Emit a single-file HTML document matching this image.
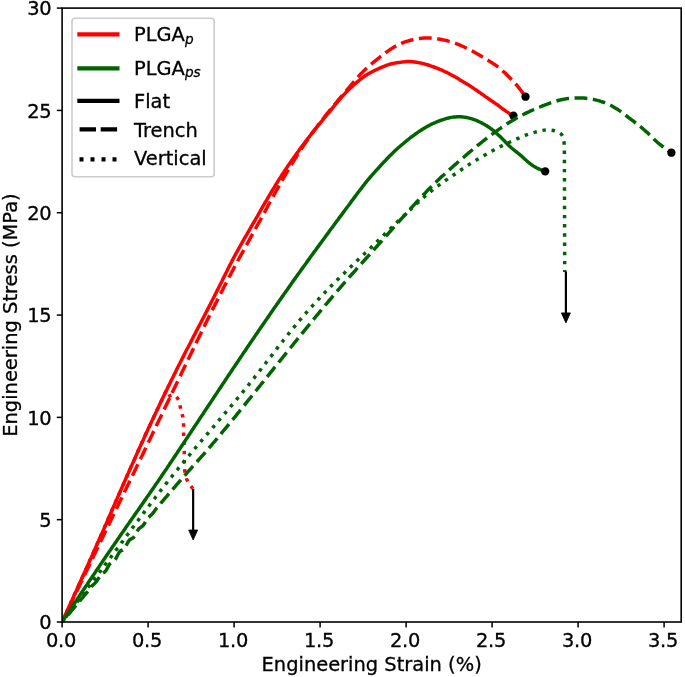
<!DOCTYPE html>
<html lang="en"><head><meta charset="utf-8"><title>Engineering Stress vs Strain</title>
<style>html,body{margin:0;padding:0;background:#fff;}svg{display:block;}svg text{stroke:#000;stroke-width:0.3px;}</style></head>
<body>
<svg width="685" height="677" viewBox="0 0 685 677" font-family="'DejaVu Sans', 'Liberation Sans', sans-serif" font-size="19.44px" fill="#000">
<rect width="685" height="677" fill="#fff"/>
<defs><clipPath id="ax"><rect x="62.1" y="8.1" width="619.1" height="613.9"/></clipPath></defs>
<g clip-path="url(#ax)" fill="none" stroke-linejoin="round">
<path d="M62.1 622.0 L62.9 620.2 L63.7 618.4 L64.6 616.6 L65.4 614.7 L66.2 612.9 L67.0 611.1 L67.9 609.3 L68.7 607.5 L69.5 605.7 L70.3 603.9 L71.1 602.1 L72.0 600.2 L72.8 598.4 L73.6 596.6 L74.4 594.8 L75.2 593.0 L76.1 591.2 L76.9 589.4 L77.7 587.5 L78.5 585.7 L79.3 583.9 L80.2 582.1 L81.0 580.3 L81.8 578.5 L82.6 576.7 L83.4 574.8 L84.2 573.0 L85.1 571.2 L85.9 569.4 L86.7 567.6 L87.5 565.8 L88.3 563.9 L89.1 562.1 L89.9 560.3 L90.8 558.5 L91.6 556.7 L92.4 554.9 L93.2 553.0 L94.0 551.2 L94.8 549.4 L95.6 547.6 L96.4 545.8 L97.2 544.0 L98.0 542.1 L98.8 540.3 L99.6 538.5 L100.4 536.7 L101.2 534.8 L102.1 533.0 L102.9 531.2 L103.7 529.4 L104.5 527.6 L105.3 525.7 L106.1 523.9 L106.9 522.1 L107.7 520.3 L108.4 518.4 L109.2 516.6 L110.0 514.8 L110.8 513.0 L111.6 511.1 L112.4 509.3 L113.2 507.5 L114.0 505.7 L114.8 503.9 L115.6 502.0 L116.4 500.2 L117.2 498.4 L118.0 496.6 L118.8 494.7 L119.6 492.9 L120.4 491.1 L121.2 489.3 L122.0 487.4 L122.8 485.6 L123.6 483.8 L124.4 482.0 L125.2 480.1 L126.0 478.3 L126.8 476.5 L127.6 474.7 L128.4 472.9 L129.2 471.0 L130.0 469.2 L130.8 467.4 L131.6 465.6 L132.4 463.8 L133.3 461.9 L134.1 460.1 L134.9 458.3 L135.7 456.5 L136.5 454.7 L137.3 452.9 L138.1 451.0 L138.9 449.2 L139.8 447.4 L140.6 445.6 L141.4 443.8 L142.2 442.0 L143.1 440.2 L143.9 438.4 L144.7 436.5 L145.5 434.7 L146.4 432.9 L147.2 431.1 L148.0 429.3 L148.9 427.5 L149.7 425.7 L150.5 423.9 L151.4 422.1 L152.2 420.3 L153.1 418.5 L153.9 416.7 L154.8 414.9 L155.6 413.1 L156.5 411.3 L157.3 409.5 L158.2 407.7 L159.0 405.9 L159.9 404.1 L160.7 402.3 L161.6 400.5 L162.4 398.7 L163.3 396.9 L164.2 395.1 L165.0 393.3 L165.9 391.5 L166.8 389.7 L167.6 387.9 L168.5 386.1 L169.4 384.4 L170.3 382.6 L171.1 380.8 L172.0 379.0 L172.9 377.2 L173.8 375.4 L174.7 373.6 L175.6 371.9 L176.4 370.1 L177.3 368.3 L178.2 366.5 L179.1 364.7 L180.0 363.0 L180.9 361.2 L181.8 359.4 L182.7 357.6 L183.6 355.9 L184.5 354.1 L185.4 352.3 L186.3 350.5 L187.2 348.8 L188.2 347.0 L189.1 345.2 L190.0 343.5 L190.9 341.7 L191.8 339.9 L192.7 338.2 L193.6 336.4 L194.6 334.6 L195.5 332.9 L196.4 331.1 L197.3 329.3 L198.2 327.6 L199.1 325.8 L200.1 324.0 L201.0 322.3 L201.9 320.5 L202.8 318.7 L203.7 317.0 L204.6 315.2 L205.5 313.4 L206.5 311.7 L207.4 309.9 L208.3 308.1 L209.2 306.3 L210.1 304.6 L211.0 302.8 L211.9 301.0 L212.8 299.3 L213.7 297.5 L214.6 295.7 L215.5 293.9 L216.4 292.2 L217.3 290.4 L218.2 288.6 L219.1 286.8 L220.0 285.0 L220.9 283.3 L221.8 281.5 L222.6 279.7 L223.5 277.9 L224.4 276.1 L225.3 274.3 L226.2 272.5 L227.1 270.8 L227.9 269.0 L228.8 267.2 L229.7 265.4 L230.6 263.7 L231.6 261.9 L232.5 260.1 L233.4 258.4 L234.3 256.6 L235.3 254.9 L236.2 253.1 L237.2 251.4 L238.2 249.6 L239.1 247.9 L240.1 246.2 L241.1 244.4 L242.1 242.7 L243.1 241.0 L244.0 239.2 L245.0 237.5 L246.0 235.8 L247.0 234.1 L248.0 232.3 L249.0 230.6 L250.0 228.9 L251.0 227.2 L252.0 225.4 L253.0 223.7 L254.0 222.0 L255.0 220.3 L256.0 218.5 L257.0 216.8 L258.0 215.1 L259.0 213.4 L260.0 211.6 L260.9 209.9 L261.9 208.2 L262.9 206.5 L263.9 204.7 L264.9 203.0 L265.9 201.3 L266.9 199.6 L267.9 197.8 L268.9 196.1 L270.0 194.4 L271.0 192.7 L272.0 191.0 L273.0 189.3 L274.1 187.6 L275.1 185.9 L276.1 184.2 L277.2 182.5 L278.2 180.8 L279.3 179.1 L280.4 177.5 L281.4 175.8 L282.5 174.1 L283.6 172.5 L284.7 170.8 L285.8 169.1 L286.9 167.5 L288.0 165.8 L289.2 164.2 L290.3 162.5 L291.4 160.9 L292.6 159.3 L293.7 157.6 L294.9 156.0 L296.0 154.4 L297.2 152.8 L298.4 151.2 L299.5 149.6 L300.7 148.0 L301.9 146.4 L303.1 144.8 L304.3 143.2 L305.5 141.6 L306.7 140.0 L307.9 138.4 L309.2 136.9 L310.4 135.3 L311.6 133.7 L312.8 132.2 L314.1 130.6 L315.3 129.1 L316.6 127.5 L317.8 126.0 L319.1 124.4 L320.3 122.9 L321.6 121.3 L322.8 119.8 L324.1 118.2 L325.4 116.7 L326.6 115.2 L327.9 113.6 L329.2 112.1 L330.4 110.5 L331.7 109.0 L333.0 107.5 L334.2 105.9 L335.5 104.4 L336.8 102.9 L338.0 101.3 L339.3 99.8 L340.6 98.3 L341.9 96.8 L343.2 95.3 L344.6 93.9 L346.0 92.4 L347.4 91.0 L348.8 89.6 L350.2 88.2 L351.7 86.9 L353.1 85.5 L354.6 84.2 L356.1 82.9 L357.6 81.6 L359.2 80.3 L360.7 79.0 L362.3 77.8 L363.9 76.7 L365.6 75.5 L367.2 74.5 L368.9 73.5 L370.7 72.5 L372.4 71.6 L374.2 70.7 L376.0 69.9 L377.9 69.0 L379.7 68.2 L381.5 67.4 L383.4 66.6 L385.2 65.9 L387.1 65.2 L388.9 64.5 L390.8 64.0 L392.8 63.5 L394.7 63.1 L396.7 62.7 L398.6 62.4 L400.6 62.2 L402.6 61.9 L404.6 61.8 L406.6 61.6 L408.6 61.6 L410.6 61.6 L412.6 61.8 L414.5 62.0 L416.5 62.3 L418.5 62.6 L420.4 63.0 L422.4 63.4 L424.3 63.9 L426.2 64.5 L428.1 65.0 L430.0 65.7 L431.9 66.3 L433.8 67.0 L435.6 67.7 L437.5 68.4 L439.3 69.2 L441.2 69.9 L443.0 70.7 L444.8 71.6 L446.6 72.4 L448.4 73.3 L450.1 74.2 L451.9 75.2 L453.6 76.1 L455.4 77.1 L457.1 78.1 L458.8 79.1 L460.5 80.2 L462.2 81.2 L463.9 82.2 L465.6 83.2 L467.3 84.3 L469.0 85.3 L470.7 86.4 L472.4 87.5 L474.0 88.6 L475.7 89.7 L477.3 90.8 L478.9 92.0 L480.6 93.1 L482.2 94.3 L483.8 95.4 L485.4 96.6 L487.1 97.7 L488.7 98.9 L490.3 100.0 L492.0 101.1 L493.6 102.2 L495.2 103.4 L496.9 104.5 L498.5 105.7 L500.1 106.9 L501.7 108.1 L503.3 109.3 L504.9 110.4 L506.6 111.6 L508.2 112.6 L509.9 113.7 L511.7 114.6 L513.4 115.6" stroke="#f00" stroke-width="3.47"/>
<circle cx="513.4" cy="115.6" r="4.17" fill="#000"/>
<path d="M62.1 622.0 L63.0 620.1 L63.9 618.3 L64.8 616.4 L65.7 614.6 L66.5 612.7 L67.4 610.8 L68.3 609.0 L69.2 607.1 L70.1 605.3 L71.0 603.4 L71.9 601.6 L72.8 599.7 L73.6 597.8 L74.5 596.0 L75.4 594.1 L76.3 592.3 L77.2 590.4 L78.1 588.5 L79.0 586.7 L79.9 584.8 L80.7 583.0 L81.6 581.1 L82.5 579.3 L83.4 577.4 L84.3 575.5 L85.2 573.7 L86.1 571.8 L87.0 570.0 L87.9 568.1 L88.8 566.2 L89.6 564.4 L90.5 562.5 L91.4 560.7 L92.3 558.8 L93.2 557.0 L94.1 555.1 L95.0 553.2 L95.9 551.4 L96.8 549.5 L97.7 547.7 L98.6 545.8 L99.4 544.0 L100.3 542.1 L101.2 540.3 L102.1 538.4 L103.0 536.5 L103.9 534.7 L104.8 532.8 L105.7 531.0 L106.6 529.1 L107.5 527.3 L108.4 525.4 L109.3 523.5 L110.2 521.7 L111.1 519.8 L112.0 518.0 L112.9 516.1 L113.8 514.3 L114.7 512.4 L115.6 510.6 L116.4 508.7 L117.3 506.9 L118.2 505.0 L119.1 503.1 L120.0 501.3 L120.9 499.4 L121.8 497.6 L122.7 495.7 L123.6 493.9 L124.5 492.0 L125.4 490.2 L126.3 488.3 L127.2 486.5 L128.1 484.6 L129.0 482.7 L129.9 480.9 L130.8 479.0 L131.7 477.2 L132.6 475.3 L133.5 473.5 L134.4 471.6 L135.3 469.8 L136.1 467.9 L137.0 466.0 L137.9 464.2 L138.8 462.3 L139.7 460.5 L140.6 458.6 L141.5 456.8 L142.4 454.9 L143.3 453.1 L144.2 451.2 L145.1 449.3 L146.0 447.5 L146.9 445.6 L147.8 443.8 L148.6 441.9 L149.5 440.1 L150.4 438.2 L151.3 436.3 L152.2 434.5 L153.1 432.6 L154.0 430.8 L154.9 428.9 L155.8 427.0 L156.6 425.2 L157.5 423.3 L158.4 421.5 L159.3 419.6 L160.2 417.8 L161.1 415.9 L162.0 414.0 L162.9 412.2 L163.8 410.3 L164.6 408.5 L165.5 406.6 L166.4 404.7 L167.3 402.9 L168.2 401.0 L169.1 399.2 L170.0 397.3 L170.9 395.5 L171.8 393.6 L172.6 391.7 L173.5 389.9 L174.4 388.0 L175.3 386.2 L176.2 384.3 L177.1 382.4 L178.0 380.6 L178.9 378.7 L179.8 376.9 L180.7 375.0 L181.5 373.2 L182.4 371.3 L183.3 369.4 L184.2 367.6 L185.1 365.7 L186.0 363.9 L186.9 362.0 L187.8 360.2 L188.7 358.3 L189.6 356.5 L190.5 354.6 L191.4 352.7 L192.3 350.9 L193.2 349.0 L194.1 347.2 L195.0 345.3 L195.9 343.5 L196.8 341.6 L197.7 339.8 L198.6 337.9 L199.5 336.1 L200.4 334.2 L201.3 332.4 L202.2 330.5 L203.1 328.7 L204.0 326.8 L204.9 325.0 L205.8 323.1 L206.7 321.3 L207.6 319.4 L208.5 317.6 L209.5 315.7 L210.4 313.9 L211.3 312.0 L212.2 310.2 L213.1 308.4 L214.1 306.5 L215.0 304.7 L215.9 302.8 L216.9 301.0 L217.8 299.2 L218.7 297.3 L219.7 295.5 L220.6 293.7 L221.5 291.8 L222.5 290.0 L223.4 288.2 L224.4 286.3 L225.3 284.5 L226.3 282.7 L227.2 280.8 L228.2 279.0 L229.1 277.2 L230.1 275.4 L231.0 273.5 L232.0 271.7 L233.0 269.9 L233.9 268.1 L234.9 266.3 L235.9 264.5 L236.9 262.6 L237.8 260.8 L238.8 259.0 L239.8 257.2 L240.8 255.4 L241.8 253.6 L242.8 251.8 L243.8 250.0 L244.8 248.2 L245.7 246.4 L246.7 244.6 L247.7 242.8 L248.7 241.0 L249.7 239.2 L250.7 237.4 L251.7 235.6 L252.7 233.8 L253.7 232.0 L254.7 230.2 L255.7 228.3 L256.7 226.5 L257.7 224.7 L258.7 222.9 L259.7 221.1 L260.7 219.3 L261.6 217.5 L262.6 215.7 L263.6 213.9 L264.6 212.1 L265.6 210.3 L266.6 208.5 L267.5 206.7 L268.5 204.8 L269.5 203.0 L270.5 201.2 L271.5 199.4 L272.5 197.6 L273.5 195.8 L274.5 194.0 L275.5 192.2 L276.5 190.4 L277.5 188.6 L278.5 186.8 L279.5 185.0 L280.5 183.2 L281.5 181.4 L282.6 179.6 L283.6 177.9 L284.6 176.1 L285.7 174.3 L286.7 172.5 L287.8 170.7 L288.8 169.0 L289.9 167.2 L291.0 165.4 L292.0 163.7 L293.1 161.9 L294.2 160.2 L295.3 158.4 L296.4 156.7 L297.5 154.9 L298.6 153.2 L299.7 151.5 L300.9 149.7 L302.0 148.0 L303.1 146.3 L304.3 144.6 L305.4 142.9 L306.6 141.2 L307.8 139.5 L308.9 137.8 L310.1 136.1 L311.3 134.4 L312.5 132.8 L313.7 131.1 L314.9 129.4 L316.2 127.8 L317.4 126.1 L318.6 124.5 L319.9 122.8 L321.1 121.2 L322.4 119.6 L323.7 118.0 L325.0 116.3 L326.2 114.7 L327.5 113.1 L328.8 111.5 L330.1 109.9 L331.4 108.3 L332.7 106.7 L334.1 105.1 L335.4 103.6 L336.7 102.0 L338.0 100.4 L339.3 98.8 L340.7 97.2 L342.0 95.7 L343.3 94.1 L344.7 92.5 L346.0 91.0 L347.3 89.4 L348.7 87.9 L350.0 86.3 L351.4 84.7 L352.7 83.2 L354.0 81.6 L355.4 80.0 L356.7 78.4 L358.1 76.9 L359.4 75.4 L360.8 73.8 L362.3 72.4 L363.7 70.9 L365.2 69.5 L366.7 68.1 L368.2 66.7 L369.8 65.4 L371.4 64.0 L373.0 62.7 L374.6 61.4 L376.2 60.1 L377.8 58.8 L379.4 57.5 L381.0 56.2 L382.6 55.0 L384.3 53.7 L385.9 52.5 L387.6 51.3 L389.3 50.1 L391.0 49.0 L392.7 47.9 L394.5 46.8 L396.3 45.8 L398.2 44.9 L400.0 44.0 L401.9 43.2 L403.8 42.4 L405.8 41.7 L407.7 41.1 L409.7 40.5 L411.7 40.0 L413.7 39.5 L415.7 39.1 L417.8 38.7 L419.8 38.4 L421.9 38.2 L423.9 38.1 L426.0 38.0 L428.0 38.0 L430.1 38.1 L432.2 38.3 L434.2 38.5 L436.3 38.7 L438.3 39.0 L440.3 39.3 L442.4 39.7 L444.4 40.1 L446.4 40.5 L448.4 41.1 L450.4 41.6 L452.3 42.2 L454.3 42.9 L456.2 43.6 L458.1 44.4 L460.0 45.2 L461.9 46.0 L463.8 46.8 L465.7 47.7 L467.6 48.6 L469.4 49.5 L471.2 50.4 L473.1 51.4 L474.9 52.4 L476.6 53.4 L478.4 54.5 L480.2 55.5 L481.9 56.6 L483.7 57.7 L485.4 58.8 L487.2 59.9 L489.0 60.9 L490.7 62.0 L492.5 63.1 L494.2 64.3 L495.9 65.4 L497.5 66.6 L499.2 67.9 L500.8 69.2 L502.3 70.5 L503.8 71.9 L505.4 73.3 L506.8 74.8 L508.3 76.2 L509.8 77.7 L511.2 79.2 L512.6 80.6 L514.0 82.1 L515.4 83.7 L516.8 85.2 L518.1 86.8 L519.4 88.4 L520.6 90.0 L521.9 91.7 L523.1 93.4 L524.3 95.0 L525.5 96.7" stroke="#f00" stroke-width="3.47" stroke-dasharray="12.84 5.55" stroke-dashoffset="3.32"/>
<circle cx="525.5" cy="96.7" r="4.17" fill="#000"/>
<path d="M62.1 622.0 L62.9 620.2 L63.7 618.4 L64.6 616.6 L65.4 614.7 L66.2 612.9 L67.0 611.1 L67.9 609.3 L68.7 607.5 L69.5 605.7 L70.3 603.9 L71.1 602.1 L72.0 600.2 L72.8 598.4 L73.6 596.6 L74.4 594.8 L75.2 593.0 L76.1 591.2 L76.9 589.4 L77.7 587.5 L78.5 585.7 L79.3 583.9 L80.2 582.1 L81.0 580.3 L81.8 578.5 L82.6 576.7 L83.4 574.8 L84.2 573.0 L85.1 571.2 L85.9 569.4 L86.7 567.6 L87.5 565.8 L88.3 563.9 L89.1 562.1 L89.9 560.3 L90.8 558.5 L91.6 556.7 L92.4 554.9 L93.2 553.0 L94.0 551.2 L94.8 549.4 L95.6 547.6 L96.4 545.8 L97.2 544.0 L98.0 542.1 L98.8 540.3 L99.6 538.5 L100.4 536.7 L101.2 534.8 L102.1 533.0 L102.9 531.2 L103.7 529.4 L104.5 527.6 L105.3 525.7 L106.1 523.9 L106.9 522.1 L107.7 520.3 L108.4 518.4 L109.2 516.6 L110.0 514.8 L110.8 513.0 L111.6 511.1 L112.4 509.3 L113.2 507.5 L114.0 505.7 L114.8 503.9 L115.6 502.0 L116.4 500.2 L117.2 498.4 L118.0 496.6 L118.8 494.7 L119.6 492.9 L120.4 491.1 L121.2 489.3 L122.0 487.4 L122.8 485.6 L123.6 483.8 L124.4 482.0 L125.2 480.1 L126.0 478.3 L126.8 476.5 L127.6 474.7 L128.4 472.9 L129.2 471.0 L130.0 469.2 L130.8 467.4 L131.6 465.6 L132.4 463.8 L133.3 461.9 L134.1 460.1 L134.9 458.3 L135.7 456.5 L136.5 454.7 L137.3 452.9 L138.1 451.0 L138.9 449.2 L139.8 447.4 L140.6 445.6 L141.4 443.8 L142.2 442.0 L143.1 440.2 L143.9 438.4 L144.7 436.5 L145.5 434.7 L146.4 432.9 L147.2 431.1 L148.0 429.3 L148.9 427.5 L149.7 425.7 L150.5 423.9 L151.4 422.1 L152.2 420.3 L153.1 418.5 L153.9 416.7 L154.8 414.9 L155.6 413.1 L156.5 411.3 L157.3 409.5 L158.2 407.7 L159.0 405.9 L159.9 404.1 L160.7 402.3 L161.6 400.5 L162.4 398.7 L163.3 396.9 L164.2 395.1 L165.0 393.3 L165.9 391.5 L168.0 397.0 L169.2 396.2 L170.4 395.5 L171.6 395.0 L172.8 394.8 L174.0 395.0 L175.1 395.7 L176.2 396.6 L177.1 397.7 L177.9 398.9 L178.6 400.1 L179.1 401.4 L179.4 402.7 L179.7 404.0 L180.0 405.2 L180.2 406.5 L180.5 407.8 L180.7 409.1 L181.1 410.4 L181.4 411.6 L181.8 412.9 L182.1 414.2 L182.5 415.5 L182.8 416.8 L183.0 418.0 L183.2 419.3 L183.4 420.7 L183.5 422.0 L183.5 423.3 L183.6 424.6 L183.6 425.9 L183.6 427.3 L183.6 428.6 L183.6 429.9 L183.6 431.2 L183.6 432.6 L183.7 433.9 L183.7 435.2 L183.8 436.5 L183.8 437.8 L183.9 439.2 L183.9 440.5 L184.0 441.8 L184.0 443.1 L184.1 444.4 L184.1 445.8 L184.2 447.1 L184.2 448.4 L184.2 449.7 L184.3 451.0 L184.3 452.4 L184.3 453.7 L184.3 455.0 L184.3 456.3 L184.3 457.6 L184.4 459.0 L184.4 460.3 L184.4 461.6 L184.4 462.9 L184.4 464.2 L184.5 465.6 L184.5 466.9 L184.6 468.2 L184.7 469.5 L184.8 470.8 L184.9 472.1 L185.2 473.5 L185.4 474.8 L185.7 476.1 L186.1 477.3 L186.5 478.6 L187.0 479.8 L187.5 481.0 L188.1 482.2 L188.8 483.3 L189.5 484.4 L190.3 485.5 L191.1 486.5 L192.0 487.6 L192.8 488.6" stroke="#f00" stroke-width="3.47" stroke-dasharray="3.47 5.73" stroke-dashoffset="7.58"/>
<path d="M62.1 622.0 L63.1 620.4 L64.2 618.8 L65.2 617.3 L66.3 615.7 L67.3 614.1 L68.4 612.5 L69.4 611.0 L70.5 609.4 L71.5 607.8 L72.6 606.2 L73.6 604.7 L74.7 603.1 L75.7 601.5 L76.8 599.9 L77.8 598.3 L78.9 596.8 L79.9 595.2 L81.0 593.6 L82.0 592.0 L83.1 590.5 L84.1 588.9 L85.2 587.3 L86.2 585.7 L87.3 584.2 L88.3 582.6 L89.4 581.0 L90.4 579.5 L91.5 577.9 L92.6 576.3 L93.6 574.7 L94.7 573.2 L95.7 571.6 L96.8 570.0 L97.8 568.5 L98.9 566.9 L100.0 565.3 L101.0 563.8 L102.1 562.2 L103.1 560.6 L104.2 559.0 L105.3 557.5 L106.3 555.9 L107.4 554.4 L108.5 552.8 L109.5 551.2 L110.6 549.7 L111.7 548.1 L112.7 546.5 L113.8 545.0 L114.9 543.4 L116.0 541.9 L117.0 540.3 L118.1 538.7 L119.2 537.2 L120.3 535.6 L121.3 534.1 L122.4 532.5 L123.5 531.0 L124.6 529.4 L125.7 527.8 L126.7 526.3 L127.8 524.7 L128.9 523.2 L130.0 521.6 L131.1 520.1 L132.1 518.5 L133.2 517.0 L134.3 515.4 L135.4 513.9 L136.5 512.3 L137.6 510.8 L138.7 509.2 L139.7 507.7 L140.8 506.1 L141.9 504.6 L143.0 503.0 L144.1 501.4 L145.2 499.9 L146.2 498.3 L147.3 496.8 L148.4 495.2 L149.5 493.7 L150.5 492.1 L151.6 490.6 L152.7 489.0 L153.8 487.4 L154.8 485.9 L155.9 484.3 L157.0 482.8 L158.1 481.2 L159.1 479.6 L160.2 478.1 L161.3 476.5 L162.3 474.9 L163.4 473.4 L164.4 471.8 L165.5 470.2 L166.6 468.7 L167.6 467.1 L168.7 465.5 L169.7 463.9 L170.8 462.4 L171.8 460.8 L172.9 459.2 L173.9 457.6 L175.0 456.1 L176.0 454.5 L177.1 452.9 L178.1 451.3 L179.2 449.8 L180.2 448.2 L181.3 446.6 L182.3 445.0 L183.4 443.5 L184.4 441.9 L185.5 440.3 L186.5 438.7 L187.6 437.2 L188.6 435.6 L189.7 434.0 L190.7 432.4 L191.8 430.8 L192.8 429.3 L193.8 427.7 L194.9 426.1 L195.9 424.5 L197.0 423.0 L198.0 421.4 L199.1 419.8 L200.1 418.2 L201.2 416.6 L202.2 415.1 L203.3 413.5 L204.3 411.9 L205.3 410.3 L206.4 408.7 L207.4 407.2 L208.5 405.6 L209.5 404.0 L210.6 402.4 L211.6 400.9 L212.7 399.3 L213.7 397.7 L214.8 396.1 L215.8 394.5 L216.9 393.0 L217.9 391.4 L218.9 389.8 L220.0 388.2 L221.0 386.7 L222.1 385.1 L223.1 383.5 L224.2 381.9 L225.2 380.3 L226.3 378.8 L227.3 377.2 L228.4 375.6 L229.4 374.0 L230.5 372.5 L231.5 370.9 L232.6 369.3 L233.6 367.7 L234.7 366.2 L235.8 364.6 L236.8 363.0 L237.9 361.5 L238.9 359.9 L240.0 358.3 L241.0 356.7 L242.1 355.2 L243.1 353.6 L244.2 352.0 L245.3 350.5 L246.3 348.9 L247.4 347.3 L248.4 345.8 L249.5 344.2 L250.6 342.6 L251.6 341.1 L252.7 339.5 L253.8 337.9 L254.8 336.4 L255.9 334.8 L257.0 333.2 L258.0 331.7 L259.1 330.1 L260.2 328.5 L261.2 327.0 L262.3 325.4 L263.4 323.9 L264.5 322.3 L265.5 320.7 L266.6 319.2 L267.7 317.6 L268.8 316.1 L269.8 314.5 L270.9 312.9 L272.0 311.4 L273.1 309.8 L274.1 308.3 L275.2 306.7 L276.3 305.2 L277.4 303.6 L278.5 302.1 L279.6 300.5 L280.6 299.0 L281.7 297.4 L282.8 295.9 L283.9 294.3 L285.0 292.8 L286.1 291.2 L287.2 289.7 L288.3 288.1 L289.4 286.6 L290.5 285.0 L291.5 283.5 L292.6 281.9 L293.7 280.4 L294.8 278.9 L295.9 277.3 L297.0 275.8 L298.1 274.2 L299.2 272.7 L300.3 271.2 L301.4 269.6 L302.5 268.1 L303.7 266.5 L304.8 265.0 L305.9 263.5 L307.0 261.9 L308.1 260.4 L309.2 258.9 L310.3 257.3 L311.4 255.8 L312.5 254.3 L313.6 252.7 L314.8 251.2 L315.9 249.7 L317.0 248.1 L318.1 246.6 L319.2 245.1 L320.3 243.6 L321.5 242.0 L322.6 240.5 L323.7 239.0 L324.8 237.5 L325.9 235.9 L327.1 234.4 L328.2 232.9 L329.3 231.3 L330.4 229.8 L331.5 228.3 L332.7 226.8 L333.8 225.3 L334.9 223.7 L336.0 222.2 L337.2 220.7 L338.3 219.2 L339.4 217.6 L340.5 216.1 L341.7 214.6 L342.8 213.1 L343.9 211.6 L345.1 210.0 L346.2 208.5 L347.3 207.0 L348.5 205.5 L349.6 204.0 L350.7 202.4 L351.8 200.9 L353.0 199.4 L354.1 197.9 L355.2 196.4 L356.4 194.8 L357.5 193.3 L358.6 191.8 L359.8 190.3 L360.9 188.8 L362.1 187.3 L363.2 185.8 L364.4 184.3 L365.5 182.8 L366.7 181.3 L367.9 179.9 L369.2 178.4 L370.4 177.0 L371.6 175.6 L372.9 174.1 L374.2 172.7 L375.4 171.3 L376.7 169.9 L378.0 168.5 L379.2 167.1 L380.5 165.7 L381.8 164.3 L383.1 162.9 L384.4 161.5 L385.7 160.2 L387.0 158.8 L388.3 157.4 L389.6 156.1 L391.0 154.7 L392.3 153.4 L393.7 152.1 L395.0 150.8 L396.4 149.5 L397.8 148.2 L399.3 147.0 L400.7 145.7 L402.1 144.5 L403.6 143.3 L405.0 142.1 L406.5 140.9 L408.0 139.7 L409.4 138.5 L410.9 137.3 L412.5 136.2 L414.0 135.1 L415.5 134.0 L417.1 132.9 L418.6 131.8 L420.2 130.8 L421.8 129.7 L423.4 128.7 L425.0 127.7 L426.7 126.8 L428.3 125.9 L430.0 125.0 L431.7 124.1 L433.4 123.3 L435.1 122.6 L436.9 121.8 L438.6 121.1 L440.4 120.5 L442.2 119.9 L444.0 119.3 L445.9 118.7 L447.7 118.2 L449.5 117.8 L451.4 117.4 L453.3 117.1 L455.2 116.9 L457.1 116.7 L458.9 116.7 L460.8 116.8 L462.7 116.9 L464.6 117.2 L466.5 117.5 L468.3 117.9 L470.2 118.4 L472.0 118.9 L473.8 119.5 L475.6 120.2 L477.4 120.9 L479.1 121.7 L480.8 122.5 L482.5 123.4 L484.1 124.3 L485.8 125.2 L487.4 126.3 L488.9 127.3 L490.5 128.4 L492.0 129.5 L493.5 130.7 L495.0 131.9 L496.4 133.2 L497.8 134.4 L499.2 135.7 L500.6 137.1 L501.9 138.4 L503.2 139.8 L504.6 141.1 L505.9 142.5 L507.2 143.8 L508.5 145.2 L509.9 146.5 L511.3 147.8 L512.7 149.0 L514.2 150.2 L515.7 151.4 L517.2 152.5 L518.6 153.7 L520.1 154.9 L521.6 156.1 L523.0 157.4 L524.4 158.7 L525.8 160.0 L527.2 161.2 L528.6 162.5 L530.1 163.7 L531.6 164.8 L533.2 165.9 L534.8 166.9 L536.5 167.8 L538.2 168.6 L539.9 169.4 L541.6 170.1 L543.4 170.8 L545.2 171.4" stroke="#006400" stroke-width="3.47"/>
<circle cx="545.2" cy="171.4" r="4.17" fill="#000"/>
<path d="M62.1 622.0 L63.5 620.4 L64.9 618.7 L66.2 617.1 L67.6 615.4 L69.0 613.8 L70.4 612.1 L71.7 610.5 L73.1 608.8 L74.5 607.2 L75.9 605.5 L77.3 603.9 L78.6 602.2 L80.0 600.6 L81.4 598.9 L82.8 597.3 L84.1 595.7 L85.5 594.1 L86.9 592.5 L88.3 590.8 L89.6 588.9 L91.0 587.0 L92.4 585.5 L93.8 584.2 L95.2 583.0 L96.5 581.4 L97.9 579.3 L99.3 577.0 L100.7 575.0 L102.0 573.7 L103.4 572.8 L104.8 571.8 L106.2 570.2 L107.5 567.8 L108.9 565.2 L110.3 563.2 L111.6 562.0 L113.0 561.4 L114.4 560.5 L115.8 558.8 L117.1 556.2 L118.5 553.5 L119.9 551.5 L121.2 550.5 L122.6 550.0 L124.0 549.0 L125.3 547.2 L126.7 544.5 L128.1 541.9 L129.5 540.0 L130.8 539.0 L132.2 538.4 L133.6 537.3 L134.9 535.4 L136.3 532.9 L137.7 530.4 L139.0 528.6 L140.4 527.5 L141.7 526.7 L143.1 525.4 L144.5 523.5 L145.8 521.2 L147.2 519.1 L148.6 517.4 L150.0 516.1 L151.3 514.9 L152.7 513.4 L154.1 511.6 L155.4 509.7 L156.8 507.9 L158.2 506.3 L159.6 504.8 L160.9 503.1 L162.3 501.5 L163.7 499.8 L165.1 498.2 L166.5 496.6 L167.9 494.9 L169.3 493.3 L170.7 491.7 L172.1 490.0 L173.5 488.4 L174.9 486.8 L176.3 485.2 L177.7 483.5 L179.1 481.9 L180.5 480.3 L181.9 478.7 L183.3 477.1 L184.7 475.5 L186.2 473.9 L187.6 472.2 L189.0 470.6 L190.5 469.0 L191.9 467.4 L193.3 465.8 L194.7 464.2 L196.2 462.6 L197.6 461.0 L199.0 459.4 L200.4 457.8 L201.8 456.2 L203.3 454.6 L204.7 453.0 L206.1 451.3 L207.5 449.7 L208.9 448.1 L210.3 446.5 L211.7 444.8 L213.1 443.2 L214.5 441.6 L215.9 439.9 L217.2 438.3 L218.6 436.6 L220.0 435.0 L221.4 433.3 L222.7 431.7 L224.1 430.0 L225.5 428.4 L226.9 426.7 L228.2 425.1 L229.6 423.4 L230.9 421.7 L232.3 420.1 L233.7 418.4 L235.0 416.8 L236.4 415.1 L237.7 413.4 L239.1 411.8 L240.4 410.1 L241.8 408.4 L243.1 406.7 L244.5 405.1 L245.8 403.4 L247.2 401.7 L248.5 400.0 L249.9 398.4 L251.2 396.7 L252.5 395.0 L253.9 393.3 L255.2 391.7 L256.6 390.0 L257.9 388.3 L259.3 386.6 L260.6 385.0 L261.9 383.3 L263.3 381.6 L264.6 379.9 L266.0 378.3 L267.3 376.6 L268.7 374.9 L270.0 373.2 L271.3 371.6 L272.7 369.9 L274.0 368.2 L275.4 366.5 L276.7 364.9 L278.1 363.2 L279.4 361.5 L280.8 359.9 L282.1 358.2 L283.4 356.5 L284.8 354.8 L286.1 353.2 L287.5 351.5 L288.8 349.8 L290.2 348.1 L291.5 346.5 L292.9 344.8 L294.2 343.1 L295.6 341.5 L296.9 339.8 L298.3 338.1 L299.6 336.5 L301.0 334.8 L302.3 333.1 L303.7 331.5 L305.0 329.8 L306.4 328.1 L307.8 326.5 L309.1 324.8 L310.5 323.1 L311.8 321.5 L313.2 319.8 L314.6 318.2 L315.9 316.5 L317.3 314.8 L318.7 313.2 L320.0 311.5 L321.4 309.9 L322.8 308.2 L324.1 306.6 L325.5 304.9 L326.9 303.3 L328.3 301.6 L329.7 300.0 L331.1 298.4 L332.4 296.7 L333.8 295.1 L335.2 293.4 L336.6 291.8 L338.0 290.2 L339.4 288.6 L340.8 286.9 L342.2 285.3 L343.6 283.7 L345.0 282.1 L346.5 280.5 L347.9 278.8 L349.3 277.2 L350.7 275.6 L352.1 274.0 L353.6 272.4 L355.0 270.8 L356.4 269.2 L357.8 267.6 L359.3 266.0 L360.7 264.4 L362.1 262.8 L363.6 261.2 L365.0 259.6 L366.4 258.0 L367.9 256.4 L369.3 254.8 L370.7 253.2 L372.2 251.6 L373.6 250.0 L375.0 248.4 L376.5 246.8 L377.9 245.2 L379.3 243.6 L380.8 242.0 L382.2 240.4 L383.6 238.8 L385.0 237.2 L386.5 235.6 L387.9 234.0 L389.3 232.4 L390.7 230.8 L392.2 229.2 L393.6 227.6 L395.0 226.0 L396.5 224.4 L397.9 222.8 L399.3 221.1 L400.7 219.5 L402.2 217.9 L403.6 216.4 L405.1 214.8 L406.5 213.2 L407.9 211.6 L409.4 210.0 L410.8 208.4 L412.3 206.8 L413.7 205.2 L415.2 203.6 L416.6 202.0 L418.1 200.5 L419.5 198.9 L421.0 197.3 L422.5 195.8 L424.0 194.2 L425.5 192.7 L426.9 191.1 L428.4 189.6 L430.0 188.1 L431.5 186.5 L433.0 185.0 L434.5 183.5 L436.1 182.0 L437.6 180.5 L439.2 179.1 L440.7 177.6 L442.3 176.1 L443.9 174.7 L445.5 173.2 L447.1 171.8 L448.7 170.3 L450.3 168.9 L451.9 167.5 L453.5 166.0 L455.1 164.6 L456.7 163.2 L458.3 161.8 L459.9 160.4 L461.5 159.0 L463.2 157.6 L464.8 156.2 L466.4 154.8 L468.1 153.4 L469.7 152.0 L471.4 150.6 L473.0 149.3 L474.7 147.9 L476.3 146.6 L478.0 145.2 L479.7 143.9 L481.4 142.5 L483.0 141.2 L484.7 139.9 L486.4 138.5 L488.1 137.2 L489.8 135.9 L491.6 134.6 L493.3 133.4 L495.0 132.1 L496.8 130.8 L498.5 129.6 L500.3 128.4 L502.0 127.2 L503.8 126.0 L505.6 124.8 L507.4 123.6 L509.2 122.5 L511.1 121.3 L512.9 120.2 L514.8 119.2 L516.6 118.1 L518.5 117.0 L520.4 116.0 L522.3 115.0 L524.2 114.0 L526.1 113.1 L528.1 112.2 L530.0 111.2 L532.0 110.3 L533.9 109.5 L535.9 108.6 L537.9 107.8 L539.9 107.0 L541.9 106.2 L543.9 105.4 L545.9 104.6 L547.9 103.9 L549.9 103.1 L551.9 102.4 L554.0 101.7 L556.0 101.1 L558.1 100.5 L560.2 100.0 L562.3 99.5 L564.4 99.1 L566.5 98.7 L568.6 98.4 L570.8 98.2 L572.9 98.0 L575.1 97.9 L577.2 97.9 L579.4 97.9 L581.5 98.0 L583.7 98.1 L585.8 98.3 L588.0 98.5 L590.1 98.8 L592.2 99.2 L594.3 99.6 L596.4 100.1 L598.5 100.6 L600.6 101.3 L602.6 102.0 L604.6 102.7 L606.6 103.5 L608.6 104.4 L610.5 105.3 L612.4 106.3 L614.3 107.4 L616.1 108.5 L618.0 109.6 L619.7 110.8 L621.5 112.1 L623.2 113.4 L624.9 114.6 L626.6 116.0 L628.3 117.3 L630.0 118.6 L631.7 119.9 L633.4 121.2 L635.1 122.5 L636.8 123.8 L638.5 125.2 L640.2 126.5 L641.9 127.9 L643.5 129.3 L645.1 130.7 L646.7 132.1 L648.3 133.6 L649.8 135.1 L651.4 136.6 L652.9 138.1 L654.4 139.6 L656.0 141.0 L657.6 142.5 L659.2 143.9 L660.9 145.2 L662.6 146.5 L664.3 147.8 L666.1 149.0 L667.8 150.3 L669.6 151.5 L671.4 152.7" stroke="#006400" stroke-width="3.47" stroke-dasharray="12.84 5.55" stroke-dashoffset="9.56"/>
<circle cx="671.4" cy="152.7" r="4.17" fill="#000"/>
<path d="M62.1 622.0 L63.2 620.5 L64.3 619.1 L65.4 617.6 L66.5 616.1 L67.6 614.6 L68.7 613.2 L69.9 611.7 L71.0 610.2 L72.1 608.8 L73.2 607.3 L74.3 605.8 L75.4 604.3 L76.5 602.9 L77.6 601.4 L78.7 599.9 L79.8 598.5 L80.9 597.0 L82.0 595.5 L83.1 594.0 L84.2 592.6 L85.4 591.1 L86.5 589.6 L87.6 588.2 L88.7 586.7 L89.8 585.2 L90.9 583.7 L92.0 582.3 L93.1 580.8 L94.2 579.3 L95.3 577.8 L96.4 576.4 L97.5 574.9 L98.6 573.4 L99.7 572.0 L100.8 570.5 L101.9 569.0 L103.0 567.5 L104.1 566.1 L105.2 564.6 L106.3 563.1 L107.4 561.6 L108.5 560.2 L109.7 558.7 L110.8 557.2 L111.9 555.7 L113.0 554.3 L114.1 552.8 L115.2 551.3 L116.3 549.8 L117.4 548.3 L118.5 546.9 L119.6 545.4 L120.7 543.9 L121.8 542.4 L122.9 541.0 L124.0 539.5 L125.1 538.0 L126.2 536.5 L127.2 535.0 L128.3 533.6 L129.4 532.1 L130.5 530.6 L131.6 529.1 L132.7 527.6 L133.8 526.2 L134.9 524.7 L136.0 523.2 L137.1 521.7 L138.2 520.3 L139.3 518.8 L140.4 517.3 L141.5 515.8 L142.6 514.3 L143.7 512.9 L144.8 511.4 L145.9 509.9 L147.0 508.5 L148.2 507.0 L149.3 505.5 L150.4 504.0 L151.5 502.6 L152.6 501.1 L153.7 499.6 L154.8 498.2 L155.9 496.7 L157.1 495.3 L158.2 493.8 L159.3 492.3 L160.4 490.9 L161.6 489.4 L162.7 488.0 L163.8 486.5 L165.0 485.1 L166.1 483.6 L167.3 482.2 L168.4 480.7 L169.5 479.3 L170.7 477.9 L171.9 476.4 L173.0 475.0 L174.2 473.6 L175.3 472.1 L176.5 470.7 L177.7 469.3 L178.8 467.8 L180.0 466.4 L181.2 465.0 L182.3 463.6 L183.5 462.2 L184.7 460.7 L185.9 459.3 L187.0 457.9 L188.2 456.5 L189.4 455.1 L190.6 453.7 L191.8 452.3 L193.0 450.9 L194.1 449.5 L195.3 448.0 L196.5 446.6 L197.7 445.2 L198.9 443.8 L200.1 442.4 L201.3 441.0 L202.5 439.6 L203.7 438.2 L204.9 436.8 L206.1 435.4 L207.3 434.0 L208.5 432.6 L209.7 431.2 L210.9 429.8 L212.1 428.4 L213.3 427.0 L214.5 425.6 L215.7 424.2 L216.8 422.8 L218.0 421.4 L219.2 420.0 L220.4 418.6 L221.6 417.2 L222.8 415.8 L224.0 414.4 L225.2 413.0 L226.4 411.6 L227.6 410.2 L228.8 408.8 L230.0 407.4 L231.1 406.0 L232.3 404.6 L233.5 403.2 L234.7 401.7 L235.9 400.3 L237.1 398.9 L238.2 397.5 L239.4 396.1 L240.6 394.7 L241.8 393.2 L242.9 391.8 L244.1 390.4 L245.3 389.0 L246.4 387.5 L247.6 386.1 L248.7 384.7 L249.9 383.2 L251.0 381.8 L252.2 380.4 L253.3 378.9 L254.5 377.5 L255.6 376.0 L256.8 374.6 L257.9 373.1 L259.0 371.7 L260.2 370.2 L261.3 368.8 L262.4 367.3 L263.6 365.9 L264.7 364.4 L265.8 363.0 L266.9 361.5 L268.1 360.1 L269.2 358.6 L270.3 357.1 L271.5 355.7 L272.6 354.2 L273.7 352.8 L274.8 351.3 L276.0 349.9 L277.1 348.4 L278.2 346.9 L279.4 345.5 L280.5 344.0 L281.6 342.6 L282.8 341.2 L283.9 339.7 L285.1 338.3 L286.2 336.8 L287.4 335.4 L288.5 333.9 L289.7 332.5 L290.8 331.1 L292.0 329.6 L293.1 328.2 L294.3 326.8 L295.5 325.4 L296.7 324.0 L297.8 322.6 L299.0 321.1 L300.2 319.7 L301.4 318.3 L302.6 316.9 L303.8 315.5 L305.0 314.2 L306.2 312.8 L307.5 311.4 L308.7 310.0 L309.9 308.6 L311.1 307.3 L312.4 305.9 L313.6 304.5 L314.9 303.2 L316.1 301.8 L317.4 300.5 L318.6 299.1 L319.9 297.8 L321.1 296.4 L322.4 295.1 L323.7 293.8 L325.0 292.4 L326.2 291.1 L327.5 289.8 L328.8 288.5 L330.1 287.2 L331.4 285.8 L332.7 284.5 L334.0 283.2 L335.3 281.9 L336.6 280.6 L337.9 279.3 L339.2 278.0 L340.5 276.7 L341.8 275.4 L343.1 274.2 L344.5 272.9 L345.8 271.6 L347.1 270.3 L348.4 269.0 L349.8 267.8 L351.1 266.5 L352.4 265.2 L353.7 263.9 L355.1 262.7 L356.4 261.4 L357.7 260.1 L359.1 258.8 L360.4 257.6 L361.7 256.3 L363.1 255.0 L364.4 253.8 L365.7 252.5 L367.1 251.2 L368.4 249.9 L369.7 248.7 L371.1 247.4 L372.4 246.1 L373.7 244.9 L375.0 243.6 L376.4 242.3 L377.7 241.0 L379.0 239.7 L380.3 238.5 L381.7 237.2 L383.0 235.9 L384.3 234.6 L385.6 233.3 L387.0 232.1 L388.3 230.8 L389.6 229.5 L390.9 228.2 L392.2 226.9 L393.6 225.7 L394.9 224.4 L396.2 223.1 L397.5 221.8 L398.9 220.5 L400.2 219.3 L401.5 218.0 L402.9 216.7 L404.2 215.4 L405.5 214.2 L406.9 212.9 L408.2 211.6 L409.5 210.3 L410.9 209.1 L412.2 207.8 L413.6 206.6 L414.9 205.3 L416.3 204.1 L417.6 202.8 L419.0 201.6 L420.4 200.3 L421.8 199.1 L423.1 197.9 L424.5 196.7 L425.9 195.5 L427.3 194.3 L428.8 193.1 L430.2 192.0 L431.6 190.8 L433.0 189.6 L434.5 188.5 L435.9 187.4 L437.4 186.3 L438.9 185.2 L440.4 184.1 L441.9 183.0 L443.4 182.0 L444.9 180.9 L446.4 179.9 L447.9 178.8 L449.5 177.8 L451.0 176.8 L452.5 175.7 L454.0 174.7 L455.6 173.7 L457.1 172.6 L458.6 171.6 L460.1 170.6 L461.6 169.5 L463.2 168.5 L464.7 167.5 L466.2 166.4 L467.8 165.4 L469.3 164.4 L470.9 163.4 L472.4 162.4 L474.0 161.5 L475.6 160.5 L477.1 159.6 L478.7 158.6 L480.3 157.7 L481.9 156.7 L483.5 155.8 L485.1 154.9 L486.7 154.0 L488.3 153.1 L489.9 152.1 L491.5 151.3 L493.1 150.4 L494.7 149.5 L496.3 148.6 L498.0 147.8 L499.6 146.9 L501.3 146.1 L502.9 145.3 L504.6 144.5 L506.2 143.7 L507.9 143.0 L509.6 142.2 L511.3 141.4 L512.9 140.7 L514.6 139.9 L516.3 139.1 L518.0 138.4 L519.7 137.6 L521.3 136.9 L523.0 136.1 L524.7 135.4 L526.5 134.8 L528.2 134.2 L530.0 133.7 L531.7 133.2 L533.5 132.7 L535.3 132.2 L537.1 131.7 L538.9 131.3 L540.6 130.8 L542.5 130.4 L544.3 130.1 L546.1 129.9 L547.9 129.9 L549.8 130.0 L551.6 130.2 L553.4 130.5 L555.2 131.0 L557.0 131.6 L558.7 132.3 L560.3 133.3 L561.6 134.5 L562.6 136.1 L563.3 137.8 L563.7 139.6 L564.0 141.5 L564.1 143.3 L564.2 145.1 L564.3 147.0 L564.3 148.8 L564.4 150.7 L564.4 152.5 L564.7 272.0" stroke="#006400" stroke-width="3.47" stroke-dasharray="3.47 5.73" stroke-dashoffset="2.83"/>
</g>
<path d="M193.15 488.8 L193.15 531.0" stroke="#000" stroke-width="2.2" fill="none"/>
<path d="M188.65 530.0 L197.65 530.0 L193.15 540.0 Z" fill="#000" stroke="#000" stroke-width="0.8" stroke-linejoin="round"/>
<path d="M565.9 271.5 L565.9 313.9" stroke="#000" stroke-width="2.2" fill="none"/>
<path d="M561.4 312.9 L570.4 312.9 L565.9 322.9 Z" fill="#000" stroke="#000" stroke-width="0.8" stroke-linejoin="round"/>
<rect x="62.1" y="8.1" width="619.1" height="613.9" fill="none" stroke="#000" stroke-width="1.6"/>
<path d="M62.10 622.0 v5.4" stroke="#000" stroke-width="1.5"/>
<text x="61.00" y="647.12" text-anchor="middle" letter-spacing="-0.3">0.0</text>
<path d="M148.10 622.0 v5.4" stroke="#000" stroke-width="1.5"/>
<text x="147.00" y="647.12" text-anchor="middle" letter-spacing="-0.3">0.5</text>
<path d="M234.10 622.0 v5.4" stroke="#000" stroke-width="1.5"/>
<text x="233.00" y="647.12" text-anchor="middle" letter-spacing="-0.3">1.0</text>
<path d="M320.10 622.0 v5.4" stroke="#000" stroke-width="1.5"/>
<text x="319.00" y="647.12" text-anchor="middle" letter-spacing="-0.3">1.5</text>
<path d="M406.10 622.0 v5.4" stroke="#000" stroke-width="1.5"/>
<text x="405.00" y="647.12" text-anchor="middle" letter-spacing="-0.3">2.0</text>
<path d="M492.10 622.0 v5.4" stroke="#000" stroke-width="1.5"/>
<text x="491.00" y="647.12" text-anchor="middle" letter-spacing="-0.3">2.5</text>
<path d="M578.10 622.0 v5.4" stroke="#000" stroke-width="1.5"/>
<text x="577.00" y="647.12" text-anchor="middle" letter-spacing="-0.3">3.0</text>
<path d="M664.10 622.0 v5.4" stroke="#000" stroke-width="1.5"/>
<text x="663.00" y="647.12" text-anchor="middle" letter-spacing="-0.3">3.5</text>
<path d="M62.1 622.00 h-5.3" stroke="#000" stroke-width="1.5"/>
<text x="51.20" y="629.30" text-anchor="end" letter-spacing="-0.4">0</text>
<path d="M62.1 519.68 h-5.3" stroke="#000" stroke-width="1.5"/>
<text x="51.20" y="526.98" text-anchor="end" letter-spacing="-0.4">5</text>
<path d="M62.1 417.37 h-5.3" stroke="#000" stroke-width="1.5"/>
<text x="51.20" y="424.67" text-anchor="end" letter-spacing="-0.4">10</text>
<path d="M62.1 315.05 h-5.3" stroke="#000" stroke-width="1.5"/>
<text x="51.20" y="322.35" text-anchor="end" letter-spacing="-0.4">15</text>
<path d="M62.1 212.73 h-5.3" stroke="#000" stroke-width="1.5"/>
<text x="51.20" y="220.03" text-anchor="end" letter-spacing="-0.4">20</text>
<path d="M62.1 110.42 h-5.3" stroke="#000" stroke-width="1.5"/>
<text x="51.20" y="117.72" text-anchor="end" letter-spacing="-0.4">25</text>
<path d="M62.1 8.10 h-5.3" stroke="#000" stroke-width="1.5"/>
<text x="51.20" y="15.40" text-anchor="end" letter-spacing="-0.4">30</text>
<text x="371.65" y="670.5" text-anchor="middle">Engineering Strain (%)</text>
<text transform="translate(16.7 315.05) rotate(-90)" text-anchor="middle">Engineering Stress (MPa)</text>
<rect x="72" y="18.2" width="142.2" height="158.6" rx="3" ry="3" fill="#fff" fill-opacity="0.8" stroke="#ccc" stroke-width="1.6"/>
<path d="M77.3 34.45 H119.5" stroke="#f00" stroke-width="4.17"/>
<path d="M77.3 68.4 H119.5" stroke="#006400" stroke-width="4.17"/>
<path d="M77.3 100.9 H119.5" stroke="#000" stroke-width="4.17"/>
<path d="M79.6 129.4 H119.5" stroke="#000" stroke-width="4.17" stroke-dasharray="16.4 4.7"/>
<path d="M79.5 159.3 H119.5" stroke="#000" stroke-width="4.17" stroke-dasharray="4 7"/>
<text x="134" y="41">PLGA<tspan font-style="italic" font-size="13.61px" dy="2.5">p</tspan></text>
<text x="134" y="74.9">PLGA<tspan font-style="italic" font-size="13.61px" dy="2.5">ps</tspan></text>
<text x="134" y="108.4">Flat</text>
<text x="134" y="136.9">Trench</text>
<text x="134" y="165.1">Vertical</text>
</svg>
</body></html>
